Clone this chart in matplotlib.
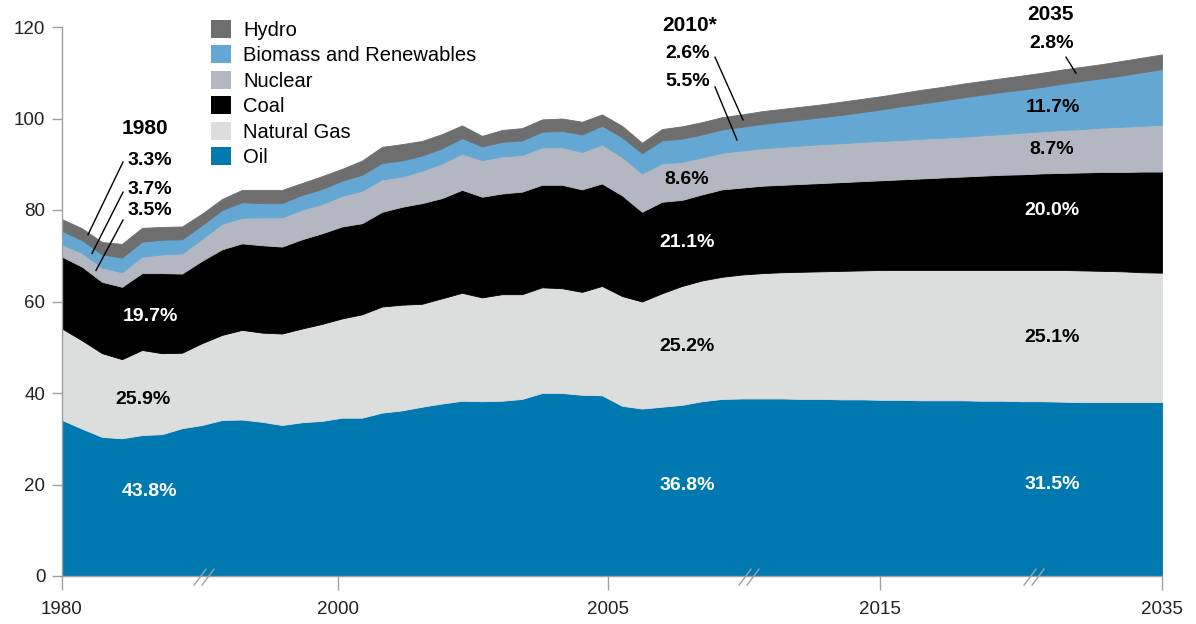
import matplotlib
matplotlib.use("Agg")
import matplotlib.pyplot as plt
from matplotlib.patches import Patch
import numpy as np

plt.rcParams['font.family'] = ['Liberation Sans', 'DejaVu Sans']

# Primary energy use by fuel, 1980-2035 (annual values)
years = list(range(1980, 2036))

oil = [34.1, 32.2, 30.4, 30.1, 30.8, 31.0, 32.3, 33.0, 34.1, 34.2,
       33.7, 33.0, 33.6, 33.9, 34.6, 34.6, 35.7, 36.2, 37.0, 37.7,
       38.3, 38.2, 38.3, 38.7, 40.0, 40.0, 39.6, 39.5, 37.2, 36.6,
       37.0, 37.4, 38.2, 38.7, 38.8, 38.8, 38.8, 38.7, 38.7, 38.6,
       38.6, 38.5, 38.5, 38.4, 38.4, 38.4, 38.3, 38.3, 38.2, 38.2,
       38.1, 38.0, 38.0, 38.0, 38.0, 38.0]
natural_gas = [20.0, 19.3, 18.3, 17.3, 18.6, 17.7, 16.5, 17.9, 18.6, 19.6,
               19.5, 20.0, 20.5, 21.2, 21.7, 22.6, 23.2, 23.1, 22.5, 23.0,
               23.6, 22.7, 23.3, 22.9, 23.1, 22.9, 22.5, 23.9, 24.0, 23.4,
               24.8, 26.0, 26.4, 26.7, 27.1, 27.4, 27.6, 27.8, 27.9, 28.1,
               28.2, 28.4, 28.4, 28.5, 28.5, 28.5, 28.6, 28.6, 28.7, 28.7,
               28.8, 28.8, 28.7, 28.6, 28.4, 28.3]
coal = [15.7, 16.1, 15.6, 15.8, 16.8, 17.5, 17.3, 18.0, 18.7, 18.9,
        19.1, 19.0, 19.5, 19.8, 20.1, 19.9, 20.7, 21.4, 22.0, 21.9,
        22.5, 22.0, 22.0, 22.4, 22.4, 22.6, 22.4, 22.4, 22.0, 19.6,
        20.0, 18.8, 18.8, 19.1, 19.0, 19.1, 19.1, 19.2, 19.3, 19.4,
        19.5, 19.6, 19.8, 20.0, 20.2, 20.4, 20.6, 20.8, 20.9, 21.1,
        21.2, 21.4, 21.6, 21.7, 22.0, 22.1]
nuclear = [2.7, 3.0, 3.1, 3.2, 3.6, 4.1, 4.4, 4.8, 5.6, 5.6,
           6.1, 6.4, 6.5, 6.4, 6.7, 7.1, 7.1, 6.6, 7.1, 7.6,
           7.9, 8.0, 8.1, 8.0, 8.2, 8.2, 8.2, 8.5, 8.4, 8.4,
           8.4, 8.3, 8.1, 8.0, 8.1, 8.2, 8.3, 8.4, 8.5, 8.5,
           8.6, 8.6, 8.6, 8.7, 8.7, 8.7, 8.8, 8.9, 9.1, 9.2,
           9.4, 9.5, 9.7, 9.9, 10.0, 10.2]
renewables = [2.9, 2.8, 2.9, 3.2, 3.3, 3.2, 3.1, 3.0, 3.0, 3.4,
              3.1, 3.1, 3.2, 3.3, 3.3, 3.5, 3.6, 3.5, 3.3, 3.3,
              3.4, 3.0, 3.2, 3.2, 3.4, 3.6, 3.8, 4.1, 4.3, 4.4,
              5.0, 5.1, 5.0, 5.1, 5.2, 5.3, 5.5, 5.7, 5.9, 6.2,
              6.5, 6.9, 7.4, 7.7, 8.1, 8.6, 8.9, 9.2, 9.4, 9.7,
              10.1, 10.5, 10.8, 11.2, 11.7, 12.2]
hydro = [2.6, 2.6, 2.7, 3.0, 3.0, 2.8, 2.8, 2.5, 2.4, 2.7,
         2.9, 2.9, 2.6, 2.8, 2.6, 3.1, 3.5, 3.6, 3.2, 3.1,
         2.8, 2.3, 2.6, 2.7, 2.7, 2.7, 2.8, 2.5, 2.5, 2.3,
         2.5, 2.7, 2.7, 2.7, 2.7, 2.8, 2.8, 2.8, 2.8, 2.9,
         2.9, 2.9, 2.9, 3.0, 3.0, 3.0, 3.0, 3.0, 3.1, 3.1,
         3.1, 3.1, 3.1, 3.2, 3.2, 3.2]

labels = ["Oil", "Natural Gas", "Coal", "Nuclear", "Biomass and Renewables", "Hydro"]
colors = ["#0078b0", "#dcdddd", "#000000", "#b3b7c1", "#63a7d2", "#6e6e6e"]

# axis ticks (the original axis is compressed, labels sit at these positions)
tick_pos = [1980, 1993.8, 2007.3, 2020.9, 2035]
tick_labels = ["1980", "2000", "2005", "2015", "2035"]
breaks = [1986.9, 2014.15, 2028.4]

fig = plt.figure(figsize=(11.96, 6.24), dpi=100)
ax = fig.add_axes([62 / 1196, 48 / 624, 1100 / 1196, 549 / 624])

polys = ax.stackplot(years, oil, natural_gas, coal, nuclear, renewables, hydro,
                     colors=colors, linewidth=0.6)
for p, c in zip(polys, colors):
    p.set_edgecolor(c)

ax.set_xlim(1980, 2035)
ax.set_ylim(0, 120)
ax.set_yticks(range(0, 121, 20))
ax.set_xticks(tick_pos)
ax.set_xticklabels(tick_labels)

for s in ["top", "right"]:
    ax.spines[s].set_visible(False)
for s in ["left", "bottom"]:
    ax.spines[s].set_color("#a0a0a0")
    ax.spines[s].set_linewidth(1.0)
ax.tick_params(axis="y", length=7, width=1, color="#a0a0a0", pad=5,
               labelsize=13.5, labelcolor="#222222")
ax.tick_params(axis="x", length=10, width=1, color="#a0a0a0", pad=8,
               labelsize=13.5, labelcolor="#222222")

# axis break marks
for b in breaks:
    for off in (0.0, 0.4):
        ax.plot([b - 0.3 + off, b + 0.3 + off], [-2.0, 1.5], color="#a0a0a0",
                lw=1.0, clip_on=False, zorder=5)

# legend
handles = [Patch(facecolor=c, edgecolor="none", label=l)
           for l, c in zip(labels[::-1], colors[::-1])]
ax.legend(handles=handles, loc="upper left", bbox_to_anchor=(0.128, 1.028),
          frameon=False, fontsize=14.5, handlelength=1.0, handleheight=1.0,
          labelspacing=0.28, handletextpad=0.6, borderaxespad=0)

bold = dict(fontweight="bold", ha="center", va="center", fontsize=14)

# 1980 shares
ax.text(1984.15, 97.9, "1980", fontsize=15, fontweight="bold", ha="center", va="center")
ax.text(1984.4, 90.9, "3.3%", **bold)
ax.text(1984.4, 84.4, "3.7%", **bold)
ax.text(1984.4, 79.8, "3.5%", **bold)
ax.plot([1983.05, 1981.3], [90.5, 74.6], color="black", lw=1)
ax.plot([1983.05, 1981.5], [83.9, 70.5], color="black", lw=1)
ax.plot([1983.05, 1981.7], [77.8, 66.8], color="black", lw=1)
ax.text(1984.4, 56.8, "19.7%", color="white", **bold)
ax.text(1984.05, 38.5, "25.9%", color="black", **bold)
ax.text(1984.4, 18.4, "43.8%", color="white", **bold)

# 2010 shares
ax.text(2011.4, 120.4, "2010*", fontsize=15, fontweight="bold", ha="center", va="center")
ax.text(2011.3, 114.3, "2.6%", **bold)
ax.text(2011.3, 108.0, "5.5%", **bold)
ax.plot([2012.65, 2014.05], [113.4, 99.7], color="black", lw=1)
ax.plot([2012.65, 2013.75], [106.9, 95.3], color="black", lw=1)
ax.text(2011.25, 86.6, "8.6%", color="black", **bold)
ax.text(2011.25, 73.0, "21.1%", color="white", **bold)
ax.text(2011.25, 50.1, "25.2%", color="black", **bold)
ax.text(2011.25, 19.7, "36.8%", color="white", **bold)

# 2035 shares
ax.text(2029.4, 122.8, "2035", fontsize=15, fontweight="bold", ha="center", va="center")
ax.text(2029.5, 116.3, "2.8%", **bold)
ax.plot([2030.2, 2030.7], [113.4, 109.9], color="black", lw=1)
ax.text(2029.55, 102.5, "11.7%", color="black", **bold)
ax.text(2029.5, 93.3, "8.7%", color="black", **bold)
ax.text(2029.5, 79.8, "20.0%", color="white", **bold)
ax.text(2029.5, 52.2, "25.1%", color="black", **bold)
ax.text(2029.5, 20.1, "31.5%", color="white", **bold)

fig.savefig("out.png", dpi=100)
